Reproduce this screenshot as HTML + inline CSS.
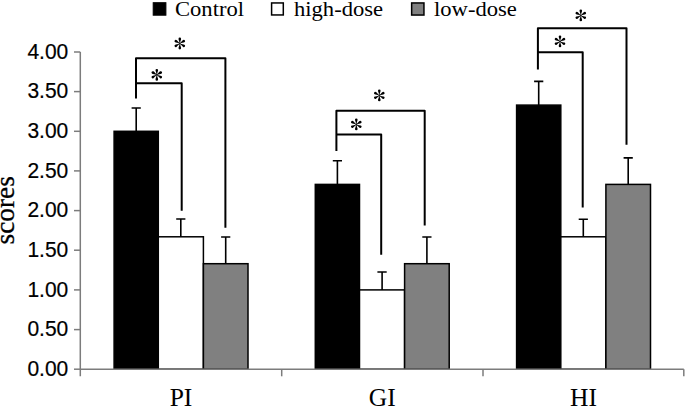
<!DOCTYPE html>
<html><head><meta charset="utf-8"><style>
html,body{margin:0;padding:0;background:#fff;}
body{width:685px;height:407px;overflow:hidden;}
svg{display:block;}
.yl{font-family:"Liberation Sans",sans-serif;font-size:22px;fill:#000;stroke:#000;stroke-width:0.2px;}
.lg{font-family:"Liberation Serif",serif;font-size:22.6px;fill:#000;}
.cat{font-family:"Liberation Serif",serif;font-size:25.5px;fill:#000;}
.ttl{font-family:"Liberation Serif",serif;font-size:27.3px;fill:#000;stroke:#000;stroke-width:0.3px;}
.ast{font-family:"Liberation Serif",serif;font-size:22px;fill:#000;}
</style></head><body>
<svg width="685" height="407" viewBox="0 0 685 407">
<defs><path id="petal" d="M-0.3 0 C-0.3 -2.36 -1.3 -3.45 -1.3 -4.60 A1.3 1.3 0 0 1 1.3 -4.60 C1.3 -3.45 0.3 -2.36 0.3 0Z"/><g id="ast"><use href="#petal" transform="rotate(0)"/><use href="#petal" transform="rotate(60)"/><use href="#petal" transform="rotate(120)"/><use href="#petal" transform="rotate(180)"/><use href="#petal" transform="rotate(240)"/><use href="#petal" transform="rotate(300)"/></g></defs>
<rect x="114.1" y="131.3" width="44.2" height="237.9" fill="#000" stroke="#000" stroke-width="1.5"/>
<rect x="158.3" y="236.8" width="45.1" height="132.4" fill="#fff" stroke="#000" stroke-width="1.5"/>
<rect x="203.4" y="263.7" width="44.6" height="105.5" fill="#808080" stroke="#000" stroke-width="1.5"/>
<rect x="315.3" y="184.4" width="44.2" height="184.8" fill="#000" stroke="#000" stroke-width="1.5"/>
<rect x="359.5" y="289.9" width="45.1" height="79.3" fill="#fff" stroke="#000" stroke-width="1.5"/>
<rect x="404.6" y="263.7" width="44.6" height="105.5" fill="#808080" stroke="#000" stroke-width="1.5"/>
<rect x="516.6" y="105.1" width="44.2" height="264.1" fill="#000" stroke="#000" stroke-width="1.5"/>
<rect x="560.8" y="236.8" width="45.1" height="132.4" fill="#fff" stroke="#000" stroke-width="1.5"/>
<rect x="605.9" y="184.4" width="44.6" height="184.8" fill="#808080" stroke="#000" stroke-width="1.5"/>
<path d="M136.2 131.3V108.0M131.6 108.0H140.8" stroke="#000" stroke-width="1.6" fill="none"/>
<path d="M180.8 236.8V219.0M176.2 219.0H185.4" stroke="#000" stroke-width="1.6" fill="none"/>
<path d="M225.7 263.7V237.0M221.1 237.0H230.3" stroke="#000" stroke-width="1.6" fill="none"/>
<path d="M337.4 184.4V160.8M332.8 160.8H342.0" stroke="#000" stroke-width="1.6" fill="none"/>
<path d="M382.1 289.9V272.0M377.4 272.0H386.7" stroke="#000" stroke-width="1.6" fill="none"/>
<path d="M426.9 263.7V237.0M422.3 237.0H431.5" stroke="#000" stroke-width="1.6" fill="none"/>
<path d="M538.7 105.1V81.4M534.1 81.4H543.3" stroke="#000" stroke-width="1.6" fill="none"/>
<path d="M583.3 236.8V219.2M578.7 219.2H587.9" stroke="#000" stroke-width="1.6" fill="none"/>
<path d="M628.2 184.4V157.9M623.6 157.9H632.8" stroke="#000" stroke-width="1.6" fill="none"/>
<path d="M80.3 51.9V376.3" stroke="#7c7c7c" stroke-width="1.5" fill="none"/>
<path d="M80.3 369.2H683.8" stroke="#7c7c7c" stroke-width="1.5" fill="none"/>
<path d="M74 369.2H80.3" stroke="#7c7c7c" stroke-width="1.5" fill="none"/>
<path d="M74 329.6H80.3" stroke="#7c7c7c" stroke-width="1.5" fill="none"/>
<path d="M74 289.9H80.3" stroke="#7c7c7c" stroke-width="1.5" fill="none"/>
<path d="M74 250.2H80.3" stroke="#7c7c7c" stroke-width="1.5" fill="none"/>
<path d="M74 210.6H80.3" stroke="#7c7c7c" stroke-width="1.5" fill="none"/>
<path d="M74 170.9H80.3" stroke="#7c7c7c" stroke-width="1.5" fill="none"/>
<path d="M74 131.3H80.3" stroke="#7c7c7c" stroke-width="1.5" fill="none"/>
<path d="M74 91.6H80.3" stroke="#7c7c7c" stroke-width="1.5" fill="none"/>
<path d="M74 52.0H80.3" stroke="#7c7c7c" stroke-width="1.5" fill="none"/>
<path d="M281.7 369.2V376.3" stroke="#7c7c7c" stroke-width="1.5" fill="none"/>
<path d="M483.0 369.2V376.3" stroke="#7c7c7c" stroke-width="1.5" fill="none"/>
<path d="M683.8 369.2V376.3" stroke="#7c7c7c" stroke-width="1.5" fill="none"/>
<text transform="translate(68.3 375.8) scale(0.955 1)" text-anchor="end" class="yl">0.00</text>
<text transform="translate(68.3 336.2) scale(0.955 1)" text-anchor="end" class="yl">0.50</text>
<text transform="translate(68.3 296.5) scale(0.955 1)" text-anchor="end" class="yl">1.00</text>
<text transform="translate(68.3 256.9) scale(0.955 1)" text-anchor="end" class="yl">1.50</text>
<text transform="translate(68.3 217.2) scale(0.955 1)" text-anchor="end" class="yl">2.00</text>
<text transform="translate(68.3 177.5) scale(0.955 1)" text-anchor="end" class="yl">2.50</text>
<text transform="translate(68.3 137.9) scale(0.955 1)" text-anchor="end" class="yl">3.00</text>
<text transform="translate(68.3 98.2) scale(0.955 1)" text-anchor="end" class="yl">3.50</text>
<text transform="translate(68.3 58.6) scale(0.955 1)" text-anchor="end" class="yl">4.00</text>
<path d="M136.0 98.4V58.3H225.4V227.7M136.0 83.2H181.7V210.7" stroke="#000" stroke-width="2" fill="none" stroke-linejoin="round" stroke-linecap="butt"/>
<use href="#ast" transform="translate(179.8 43.5)"/>
<use href="#ast" transform="translate(156.8 74.8)"/>
<path d="M336.4 151.1V110.8H424.7V225.5M336.4 134.4H381.2V254.7" stroke="#000" stroke-width="2" fill="none" stroke-linejoin="round" stroke-linecap="butt"/>
<use href="#ast" transform="translate(379.3 95.4)"/>
<use href="#ast" transform="translate(356.3 124.4)"/>
<path d="M537.9 69.5V28.3H626.5V144.7M537.9 52.3H582.7V207.6" stroke="#000" stroke-width="2" fill="none" stroke-linejoin="round" stroke-linecap="butt"/>
<use href="#ast" transform="translate(580.8 15.4)"/>
<use href="#ast" transform="translate(560.0 41.4)"/>
<rect x="153.2" y="2.7" width="12.7" height="12.5" fill="#000" stroke="#000" stroke-width="1"/>
<text transform="translate(175 16.2) scale(1 0.96)" class="lg">Control</text>
<rect x="271.6" y="2.95" width="11.7" height="12" fill="#fff" stroke="#000" stroke-width="1.5"/>
<text transform="translate(294 16.2) scale(1 0.96)" class="lg">high-dose</text>
<rect x="411.65" y="2.95" width="12.3" height="12.1" fill="#808080" stroke="#000" stroke-width="1.5"/>
<text transform="translate(434 16.2) scale(1 0.96)" class="lg">low-dose</text>
<text x="181" y="406" text-anchor="middle" class="cat">PI</text>
<text x="382.3" y="406" text-anchor="middle" class="cat">GI</text>
<text x="583.5" y="406" text-anchor="middle" class="cat">HI</text>
<text transform="translate(14 210.3) rotate(-90)" text-anchor="middle" class="ttl">scores</text>
</svg>
</body></html>
